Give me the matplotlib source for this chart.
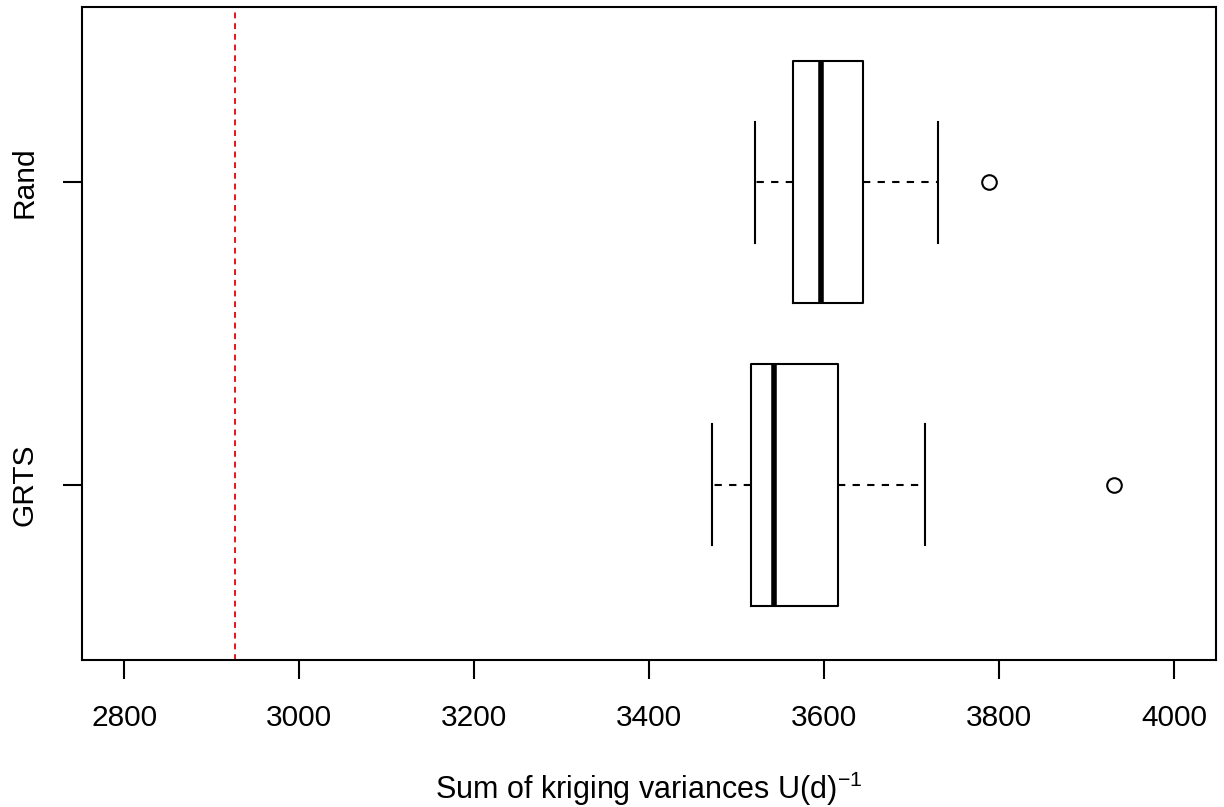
import matplotlib
matplotlib.use("Agg")
import matplotlib.pyplot as plt

plt.rcParams['font.family'] = ['Liberation Sans', 'DejaVu Sans']
plt.rcParams['mathtext.fontset'] = 'custom'
plt.rcParams['mathtext.rm'] = 'Liberation Sans'
plt.rcParams['mathtext.it'] = 'Liberation Sans:italic'

# five-number summaries (GRTS, Rand)
groups = ['GRTS', 'Rand']
whislo = [3472, 3521]
q1 = [3516, 3564]
med = [3543, 3596]
q3 = [3616, 3645]
whishi = [3715, 3730]
outliers = [[3931], [3788]]
reference = 2927  # red dashed line

stats = []
for i, g in enumerate(groups):
    stats.append({'label': g, 'whislo': whislo[i], 'q1': q1[i], 'med': med[i],
                  'q3': q3[i], 'whishi': whishi[i], 'fliers': outliers[i]})

fig = plt.figure(figsize=(12.24, 8.07), dpi=100)
ax = fig.add_axes([82.3/1224, 1 - 660/807, (1216 - 82.3)/1224, (660 - 6.7)/807])

ax.bxp(stats, positions=[1, 2], widths=0.8, vert=False, capwidths=0.4,
       boxprops=dict(color='black', linewidth=1.5),
       whiskerprops=dict(color='black', linewidth=1.5, linestyle=(0, (3.5, 3.5))),
       capprops=dict(color='black', linewidth=1.5),
       medianprops=dict(color='black', linewidth=4),
       flierprops=dict(marker='o', markerfacecolor='none', markeredgecolor='black',
                       markersize=10.5, markeredgewidth=1.5))

ax.axvline(reference, color='#e8141a', linewidth=1.4, linestyle=(0, (3, 2.5)))

ax.set_xlim(2752, 4048)
ax.set_ylim(0.42, 2.58)
ax.set_xticks([2800, 3000, 3200, 3400, 3600, 3800, 4000])
ax.set_yticks([1, 2])
ax.set_yticklabels(groups, rotation=90, va='center')
ax.tick_params(axis='both', labelsize=21.5, length=13.5, width=1.5)
ax.tick_params(axis='x', pad=18)
ax.tick_params(axis='y', pad=18)
ax.set_xlabel(r'Sum of kriging variances U(d)$^{-1}$', fontsize=22, labelpad=27)
for s in ax.spines.values():
    s.set_linewidth(1.5)

fig.savefig('out.png', dpi=100)
